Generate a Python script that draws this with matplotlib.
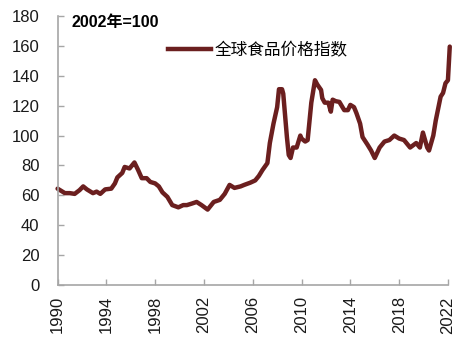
import matplotlib
matplotlib.use("Agg")
import matplotlib.pyplot as plt
from matplotlib.lines import Line2D

plt.rcParams['font.family'] = ['Liberation Sans', 'Noto Sans CJK SC', 'DejaVu Sans']

years = [1990.0, 1990.3, 1990.6, 1991.0, 1991.4, 1991.8, 1992.1, 1992.4, 1992.9, 1993.2,
         1993.5, 1993.9, 1994.4, 1994.7, 1994.9, 1995.3, 1995.5, 1995.9, 1996.1, 1996.3,
         1996.6, 1996.9, 1997.3, 1997.6, 1998.0, 1998.3, 1998.6, 1999.0, 1999.4, 1999.9,
         2000.3, 2000.6, 2001.0, 2001.4, 2001.8, 2002.3, 2002.8, 2003.3, 2003.7, 2004.1,
         2004.5, 2005.0, 2005.3, 2005.8, 2006.2, 2006.5, 2006.8, 2007.2, 2007.4, 2007.7,
         2008.0, 2008.15, 2008.4, 2008.5, 2008.8, 2008.95, 2009.1, 2009.3, 2009.6, 2009.9,
         2010.0, 2010.3, 2010.5, 2010.8, 2011.1, 2011.3, 2011.6, 2011.7, 2011.9, 2012.2,
         2012.4, 2012.55, 2012.8, 2013.1, 2013.5, 2013.8, 2014.0, 2014.3, 2014.5, 2014.8,
         2015.0, 2015.4, 2015.7, 2016.0, 2016.4, 2016.8, 2017.2, 2017.6, 2018.0, 2018.4,
         2018.9, 2019.4, 2019.7, 2019.95, 2020.3, 2020.45, 2020.8, 2021.0, 2021.2, 2021.4,
         2021.6, 2021.8, 2022.0, 2022.15]
index_values = [64.5, 63, 61.5, 61.5, 61, 63.5, 66, 64, 61.5, 62.5,
                61, 64, 64.5, 68, 72, 75, 79, 78, 80, 82,
                77, 71.5, 71.5, 69, 68, 66, 62, 59, 53.5, 52,
                53.5, 53.5, 54.5, 55.6, 53.5, 50.5, 55.6, 57, 61, 67,
                65, 66, 67, 68.5, 70, 73, 77, 81.6, 95, 108,
                119, 131, 131, 128, 99, 87, 85, 92, 92, 100,
                98, 96, 97, 122, 137, 134, 130.5, 125, 122, 122,
                116, 124, 123, 122.5, 117, 117, 120.5, 119, 115, 108,
                99, 94, 90, 85, 92, 96, 97, 100, 98, 97,
                92, 95, 92, 102, 92, 90, 100, 110, 118, 126,
                128.5, 135, 137, 159.5]

x_ticks = [1990, 1994, 1998, 2002, 2006, 2010, 2014, 2018, 2022]
y_ticks = [0, 20, 40, 60, 80, 100, 120, 140, 160, 180]
series_label = "全球食品价格指数"
note = "2002年=100"

line_color = "#6b1f1f"
spine_color = "#a6a6a6"

fig = plt.figure(figsize=(4.72, 3.39), dpi=100)
ax = fig.add_axes([0.122, 0.159, 0.827, 0.794])
ax.plot(years, index_values, color=line_color, lw=3.2, clip_on=False,
        solid_joinstyle='round', solid_capstyle='round')
ax.set_xlim(1990, 2022)
ax.set_ylim(0, 180)
ax.set_xticks(x_ticks)
ax.set_xticklabels([str(t) for t in x_ticks], rotation=90, fontsize=12, color='#1a1a1a')
ax.set_yticks(y_ticks)
ax.set_yticklabels([str(t) for t in y_ticks], fontsize=12, color='#1a1a1a')
ax.tick_params(direction='in', length=4, color=spine_color, width=1)
ax.tick_params(axis='y', pad=13)
ax.tick_params(axis='x', pad=8)
for s in ['top', 'right']:
    ax.spines[s].set_visible(False)
for s in ['left', 'bottom']:
    ax.spines[s].set_color(spine_color)
    ax.spines[s].set_linewidth(1.2)

fig.text(72/472, 1-23/339, note, fontsize=11.5, fontweight='bold', va='center', ha='left')

leg = ax.legend([Line2D([0], [0], color=line_color, lw=3.2)], [series_label],
                loc='center left', bbox_to_anchor=(0.283, 0.874), frameon=False,
                fontsize=12, handlelength=2.6, handletextpad=0.2,
                borderpad=0, borderaxespad=0)

fig.savefig("out.png", dpi=100)
